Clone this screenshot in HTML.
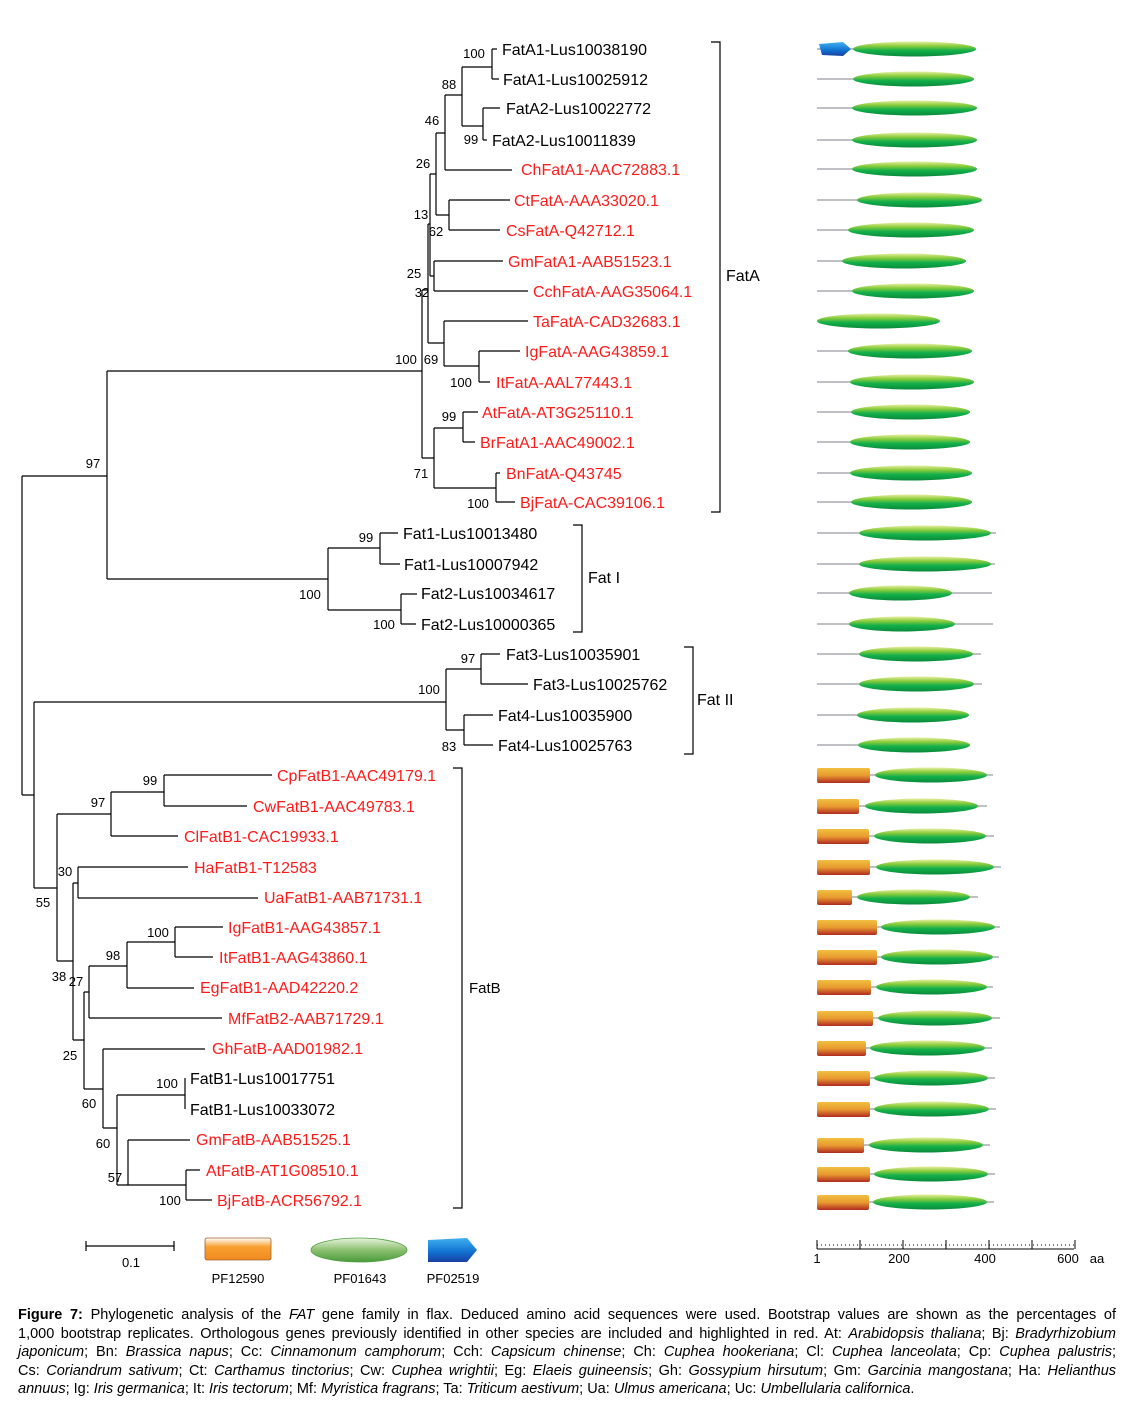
<!DOCTYPE html>
<html><head><meta charset="utf-8">
<style>
html,body{margin:0;padding:0;background:#fff;}
body{width:1134px;height:1413px;position:relative;overflow:hidden;font-family:"Liberation Sans",Arial,sans-serif;}
svg{position:absolute;left:0;top:0;}
.cap{position:absolute;left:18px;width:1098px;font-size:14.5px;line-height:18.5px;top:1306px;color:#000;}
.cap div{text-align:justify;text-align-last:justify;white-space:nowrap;}
.cap div.last{text-align-last:left;}
</style></head><body>
<svg width="1134" height="1413" viewBox="0 0 1134 1413">
<defs>
<linearGradient id="gr" x1="0" y1="0" x2="0" y2="1">
<stop offset="0" stop-color="#e8f0a0"/><stop offset="0.3" stop-color="#8ccc3c"/><stop offset="0.6" stop-color="#12b04a"/><stop offset="1" stop-color="#0a8a3a"/></linearGradient>
<linearGradient id="or" x1="0" y1="0" x2="0" y2="1">
<stop offset="0" stop-color="#f2c040"/><stop offset="0.5" stop-color="#e89a30"/><stop offset="1" stop-color="#b02a20"/></linearGradient>
<linearGradient id="bl" x1="0" y1="0" x2="0" y2="1">
<stop offset="0" stop-color="#40b0f0"/><stop offset="0.6" stop-color="#1070d0"/><stop offset="1" stop-color="#1a40a0"/></linearGradient>
<linearGradient id="or2" x1="0" y1="0" x2="0" y2="1">
<stop offset="0" stop-color="#ffffff"/><stop offset="0.4" stop-color="#f8a030"/><stop offset="1" stop-color="#f08a20"/></linearGradient>
<linearGradient id="gr2" x1="0" y1="0" x2="0" y2="1">
<stop offset="0" stop-color="#e8f4e0"/><stop offset="0.5" stop-color="#8cc070"/><stop offset="1" stop-color="#4a9a3a"/></linearGradient>
</defs>
<path fill="none" stroke="#000" stroke-width="1.2" d="
M107 371 V579 M22 476 V795 M22 476 H107 M22 795 H34
M107 371 H422 M107 579 H328
M422 290 V458 M422 290 H428 M428 224 V343 M428 224 H430 M430 174 V276 M430 174 H436 M430 276 H434
M436 133 V215 M436 133 H445 M436 215 H449
M445 95 V170 M445 95 H462 M445 170 H512
M462 67 V126 M462 67 H492 M462 126 H483
M492 49 V79 M492 49 H497 M492 79 H499
M483 108 V140 M483 108 H500 M483 140 H487
M449 200 V230 M449 200 H510 M449 230 H500
M434 261 V291 M434 261 H503 M434 291 H528
M428 343 H444 M444 321 V366 M444 321 H528 M444 366 H479
M479 351 V382 M479 351 H520 M479 382 H490
M422 458 H434 M434 428 V488 M434 428 H463 M434 488 H496
M463 412 V442 M463 412 H478 M463 442 H475
M496 473 V502 M496 473 H500 M496 502 H515
M328 548 V610 M328 548 H380 M380 533 V564 M380 533 H398 M380 564 H400 M328 610 H401 M401 594 V624 M401 594 H417 M401 624 H416
M34 702 V888 M34 702 H446 M446 669 V730 M446 669 H481 M481 654 V684 M481 654 H500 M481 684 H528 M446 730 H464 M464 715 V745 M464 715 H493 M464 745 H493
M34 888 H57 M57 814 V961 M57 814 H111 M111 792 V836 M111 792 H164 M164 775 V806 M164 775 H272 M164 806 H247 M111 836 H178 M57 961 H73 M73 883 V1040 M73 883 H78 M78 867 V898 M78 867 H188 M78 898 H258 M73 1040 H84 M84 992 V1089 M84 992 H89 M89 966 V1018 M89 966 H127 M127 942 V988 M127 942 H175 M175 927 V957 M175 927 H223 M175 957 H213 M127 988 H194 M89 1018 H222 M84 1089 H103 M103 1049 V1128 M103 1049 H205 M103 1128 H117 M117 1095 V1185 M117 1095 H185 M185 1078 V1109 M117 1185 H128 M128 1140 V1185 M128 1140 H190 M128 1185 H186 M186 1170 V1200 M186 1170 H200 M186 1200 H212
M711 42 H720 V512 H711 M573 525 H582 V632 H573 M684 647 H693 V754 H684 M453 768 H462 V1208 H453
M86 1246 H174 M86 1241 V1251 M174 1241 V1251
"/>
<g font-size="16" fill="#000">
<text x="502" y="55">FatA1-Lus10038190</text>
<text x="503" y="85">FatA1-Lus10025912</text>
<text x="506" y="114">FatA2-Lus10022772</text>
<text x="492" y="146">FatA2-Lus10011839</text>
<text x="403" y="539">Fat1-Lus10013480</text>
<text x="404" y="570">Fat1-Lus10007942</text>
<text x="421" y="599">Fat2-Lus10034617</text>
<text x="421" y="630">Fat2-Lus10000365</text>
<text x="506" y="660">Fat3-Lus10035901</text>
<text x="533" y="690">Fat3-Lus10025762</text>
<text x="498" y="721">Fat4-Lus10035900</text>
<text x="498" y="751">Fat4-Lus10025763</text>
<text x="190" y="1084">FatB1-Lus10017751</text>
<text x="190" y="1115">FatB1-Lus10033072</text>
<text x="726" y="281">FatA</text>
<text x="588" y="583">Fat I</text>
<text x="697" y="705">Fat II</text>
<text x="469" y="993" font-size="15">FatB</text>
</g>
<g font-size="16" fill="#ff1a1a">
<text x="521" y="175">ChFatA1-AAC72883.1</text>
<text x="514" y="206">CtFatA-AAA33020.1</text>
<text x="506" y="236">CsFatA-Q42712.1</text>
<text x="508" y="267">GmFatA1-AAB51523.1</text>
<text x="533" y="297">CchFatA-AAG35064.1</text>
<text x="533" y="327">TaFatA-CAD32683.1</text>
<text x="525" y="357">IgFatA-AAG43859.1</text>
<text x="496" y="388">ItFatA-AAL77443.1</text>
<text x="482" y="418">AtFatA-AT3G25110.1</text>
<text x="480" y="448">BrFatA1-AAC49002.1</text>
<text x="506" y="479">BnFatA-Q43745</text>
<text x="520" y="508">BjFatA-CAC39106.1</text>
<text x="277" y="781">CpFatB1-AAC49179.1</text>
<text x="253" y="812">CwFatB1-AAC49783.1</text>
<text x="184" y="842">ClFatB1-CAC19933.1</text>
<text x="194" y="873">HaFatB1-T12583</text>
<text x="264" y="903">UaFatB1-AAB71731.1</text>
<text x="228" y="933">IgFatB1-AAG43857.1</text>
<text x="219" y="963">ItFatB1-AAG43860.1</text>
<text x="200" y="993">EgFatB1-AAD42220.2</text>
<text x="228" y="1024">MfFatB2-AAB71729.1</text>
<text x="212" y="1054">GhFatB-AAD01982.1</text>
<text x="196" y="1145">GmFatB-AAB51525.1</text>
<text x="206" y="1176">AtFatB-AT1G08510.1</text>
<text x="217" y="1206">BjFatB-ACR56792.1</text>
</g>
<g font-size="13" fill="#000" text-anchor="middle">
<text x="474" y="58">100</text><text x="449" y="89">88</text><text x="471" y="144">99</text>
<text x="432" y="125">46</text><text x="423" y="168">26</text><text x="421" y="219">13</text>
<text x="436" y="236">62</text><text x="414" y="278">25</text><text x="422" y="297">32</text>
<text x="406" y="364">100</text><text x="431" y="364">69</text><text x="461" y="387">100</text>
<text x="449" y="421">99</text><text x="421" y="478">71</text><text x="478" y="508">100</text>
<text x="93" y="468">97</text>
<text x="366" y="542">99</text><text x="310" y="599">100</text><text x="384" y="629">100</text>
<text x="468" y="663">97</text><text x="429" y="694">100</text><text x="449" y="751">83</text>
<text x="150" y="785">99</text><text x="98" y="807">97</text><text x="65" y="876">30</text>
<text x="43" y="907">55</text><text x="158" y="937">100</text><text x="113" y="960">98</text>
<text x="59" y="981">38</text><text x="76" y="986">27</text><text x="70" y="1060">25</text>
<text x="167" y="1088">100</text><text x="89" y="1108">60</text><text x="103" y="1148">60</text>
<text x="115" y="1182">57</text><text x="170" y="1205">100</text>
<text x="131" y="1267">0.1</text>
<text x="238" y="1283">PF12590</text><text x="360" y="1283">PF01643</text><text x="453" y="1283">PF02519</text>
<text x="817" y="1263">1</text><text x="899" y="1263">200</text><text x="985" y="1263">400</text><text x="1068" y="1263">600</text><text x="1097" y="1263">aa</text>
</g>
<rect x="205" y="1238" width="66" height="22" rx="2" fill="url(#or2)" stroke="#a06030" stroke-width="0.8"/>
<ellipse cx="359" cy="1250" rx="48" ry="12" fill="url(#gr2)" stroke="#50a040" stroke-width="0.8"/>
<polygon points="428,1240 467,1238 477,1250 467,1262 428,1262" fill="url(#bl)"/>
<path fill="none" stroke="#000" stroke-width="1" d="M817 1249 H1074 M817 1240 V1249 M860 1240 V1249 M903 1240 V1249 M946 1240 V1249 M989 1240 V1249 M1032 1240 V1249 M1075 1240 V1249"/>
<path fill="none" stroke="#000" stroke-width="1" stroke-dasharray="1 3" d="M817 1245 H1074"/>
<g id="dom"></g>
</svg>
<div class="cap">
<div><b>Figure 7:</b> Phylogenetic analysis of the <i>FAT</i> gene family in flax. Deduced amino acid sequences were used. Bootstrap values are shown as the percentages of</div>
<div>1,000 bootstrap replicates. Orthologous genes previously identified in other species are included and highlighted in red. At: <i>Arabidopsis thaliana</i>; Bj: <i>Bradyrhizobium</i></div>
<div><i>japonicum</i>; Bn: <i>Brassica napus</i>; Cc: <i>Cinnamonum camphorum</i>; Cch: <i>Capsicum chinense</i>; Ch: <i>Cuphea hookeriana</i>; Cl: <i>Cuphea lanceolata</i>; Cp: <i>Cuphea palustris</i>;</div>
<div>Cs: <i>Coriandrum sativum</i>; Ct: <i>Carthamus tinctorius</i>; Cw: <i>Cuphea wrightii</i>; Eg: <i>Elaeis guineensis</i>; Gh: <i>Gossypium hirsutum</i>; Gm: <i>Garcinia mangostana</i>; Ha: <i>Helianthus</i></div>
<div class="last"><i>annuus</i>; Ig: <i>Iris germanica</i>; It: <i>Iris tectorum</i>; Mf: <i>Myristica fragrans</i>; Ta: <i>Triticum aestivum</i>; Ua: <i>Ulmus americana</i>; Uc: <i>Umbellularia californica</i>.</div>
</div>
<script>
var D=[[49,976,853,976,'a'],[79,974,853,974],[108,977,852,977],[140,977,852,977],[169,977,852,977],[200,982,857,982],[230,974,848,974],[261,966,842,966],[291,974,852,974],[321,0,817,940],[351,972,848,972],[382,974,850,974],[412,970,851,970],[442,970,850,970],[473,972,850,972],[502,972,851,972],
[533,996,859,991],[564,995,859,991],[593,992,849,952],[624,993,849,955],[654,981,859,973],[684,982,859,974],[715,969,857,969],[745,970,858,970],
[775,993,875,987,870],[806,987,865,978,859],[836,994,874,986,869],[867,1001,876,994,870],[897,978,857,970,852],[927,1000,881,995,877],[957,999,881,993,877],[987,993,876,987,871],[1018,1000,878,992,873],[1048,992,870,985,866],[1078,995,874,988,870],[1109,996,874,989,870],[1145,990,869,983,864],[1174,995,874,988,870],[1202,994,873,987,869]];
var g=document.getElementById('dom'),h='';
D.forEach(function(d){var y=d[0];
if(d[1])h+='<line x1="817" y1="'+y+'" x2="'+d[1]+'" y2="'+y+'" stroke="#a8acb0" stroke-width="1.5"/>';
if(typeof d[4]==='number')h+='<rect x="817" y="'+(y-7)+'" width="'+(d[4]-817)+'" height="15" rx="2" fill="url(#or)"/>';
if(d[4]==='a')h+='<polygon points="819,'+(y-5)+' 843,'+(y-7)+' 851,'+y+' 843,'+(y+7)+' 822,'+(y+6)+'" fill="url(#bl)"/>';
h+='<ellipse cx="'+((d[2]+d[3])/2)+'" cy="'+y+'" rx="'+((d[3]-d[2])/2)+'" ry="7.5" fill="url(#gr)"/>';});
g.innerHTML=h;
</script>
</body></html>
